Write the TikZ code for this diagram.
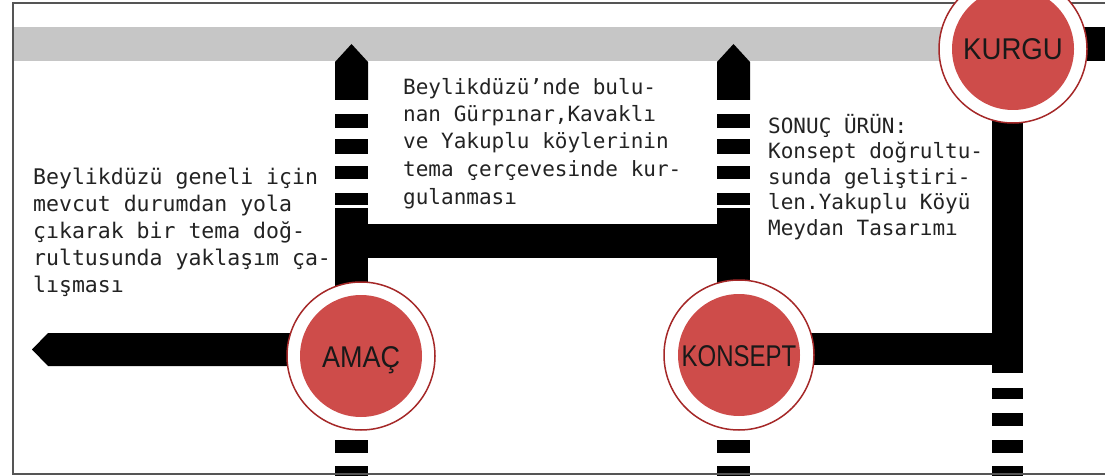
\documentclass[tikz,border=0pt]{standalone}
\usepackage{fontspec}
\setmainfont{Liberation Sans}
\newfontfamily\monof{DejaVu Sans Mono}
\newfontfamily\labf{Liberation Sans}
\definecolor{cred}{RGB}{206,76,74}
\definecolor{cedge}{RGB}{165,40,40}
\definecolor{bandgray}{RGB}{198,198,198}
\definecolor{framegray}{RGB}{85,85,85}
\definecolor{txt}{RGB}{35,35,35}
\begin{document}
\begin{tikzpicture}[x=1pt,y=-1pt,
  bar/.style={fill=black},
  ring/.style={fill=white,draw=cedge,line width=1.5pt},
  disk/.style={circle,fill=cred,minimum size=122pt,inner sep=0pt,text height=22pt,text depth=0pt,
    font=\labf\fontsize{30}{30}\selectfont,text=black!90},
  body/.style={text=txt,align=left,inner sep=0pt,anchor=base west}]
\path[use as bounding box] (0,0) rectangle (1105,476);
\fill[white] (0,0) rectangle (1105,476);
\clip (0,0) rectangle (1105,476);

% circle centres
\coordinate (amacc) at (361,356);
\coordinate (konc) at (739,355);
\coordinate (kurc) at (1013,49);

% top band
\fill[bandgray] (13,27) rectangle (kurc |- 0,61);
\fill[black] (kurc |- 0,27) rectangle (1105,61);

% left vertical (AMAC)
\fill[bar] (335,62) -- (351.5,44) -- (368,62) -- (368,100) -- (335,100) -- cycle;
\foreach \a/\b in {114/128,139/154,166/179,193/205}
  \fill[bar] (335,\a) rectangle (368,\b);
\fill[bar] (335,208) rectangle (368,300);
% middle vertical (KONSEPT)
\fill[bar] (717,62) -- (733.5,44) -- (750,62) -- (750,100) -- (717,100) -- cycle;
\foreach \a/\b in {114/128,139/154,166/179,193/205}
  \fill[bar] (717,\a) rectangle (750,\b);
\fill[bar] (717,208) rectangle (750,300);
% horizontal link
\fill[bar] (335,224) rectangle (750,258);
% dashes below circles
\foreach \a/\b in {440/453,466/476}{
  \fill[bar] (335,\a) rectangle (368,\b);
  \fill[bar] (717,\a) rectangle (750,\b);}
% left arrow
\fill[bar] (32,349.5) -- (48,333) -- (amacc |- 0,333) -- (amacc |- 0,366) -- (48,366) -- cycle;
% KONSEPT to right bar, right vertical
\fill[bar] (konc |- 0,333) rectangle (1023,365);
\fill[bar] (992,49) rectangle (1023,373);
\foreach \a/\b in {388/399,413/426,440/453,466/476}
  \fill[bar] (992,\a) rectangle (1023,\b);

% frame (open on the right)
\draw[framegray,line width=2pt] (1105,3) -- (13,3) -- (13,474) -- (1105,474);

% circles
\draw[ring] (amacc) circle[radius=74pt];
\node[disk] (amac) at (amacc) {\scalebox{0.9}[1]{AMAÇ}};
\draw[ring] (konc) circle[radius=75pt];
\node[disk] (konsept) at (konc) {\scalebox{0.8}[1]{KONSEPT}};
\draw[ring] (kurc) circle[radius=74pt];
\node[disk] (kurgu) at (kurc) {\scalebox{0.92}[1]{KURGU}};

% texts (anchored at the baseline of the last line)
\node[body,font=\monof\fontsize{21.5}{27}\selectfont] (t1) at (33,292) {Beylikdüzü geneli için\\mevcut durumdan yola\\çıkarak bir tema doğ-\\rultusunda yaklaşım ça-\\lışması};
\node[body,font=\monof\fontsize{21}{27.5}\selectfont] (t2) at (403,204) {Beylikdüzü’nde bulu-\\nan Gürpınar,Kavaklı\\ve Yakuplu köylerinin\\tema çerçevesinde kur-\\gulanması};
\node[body,font=\monof\fontsize{21}{25.5}\selectfont] (t3) at (768,235) {SONUÇ ÜRÜN:\\Konsept doğrultu-\\sunda geliştiri-\\len.Yakuplu Köyü\\Meydan Tasarımı};
\end{tikzpicture}
\end{document}
